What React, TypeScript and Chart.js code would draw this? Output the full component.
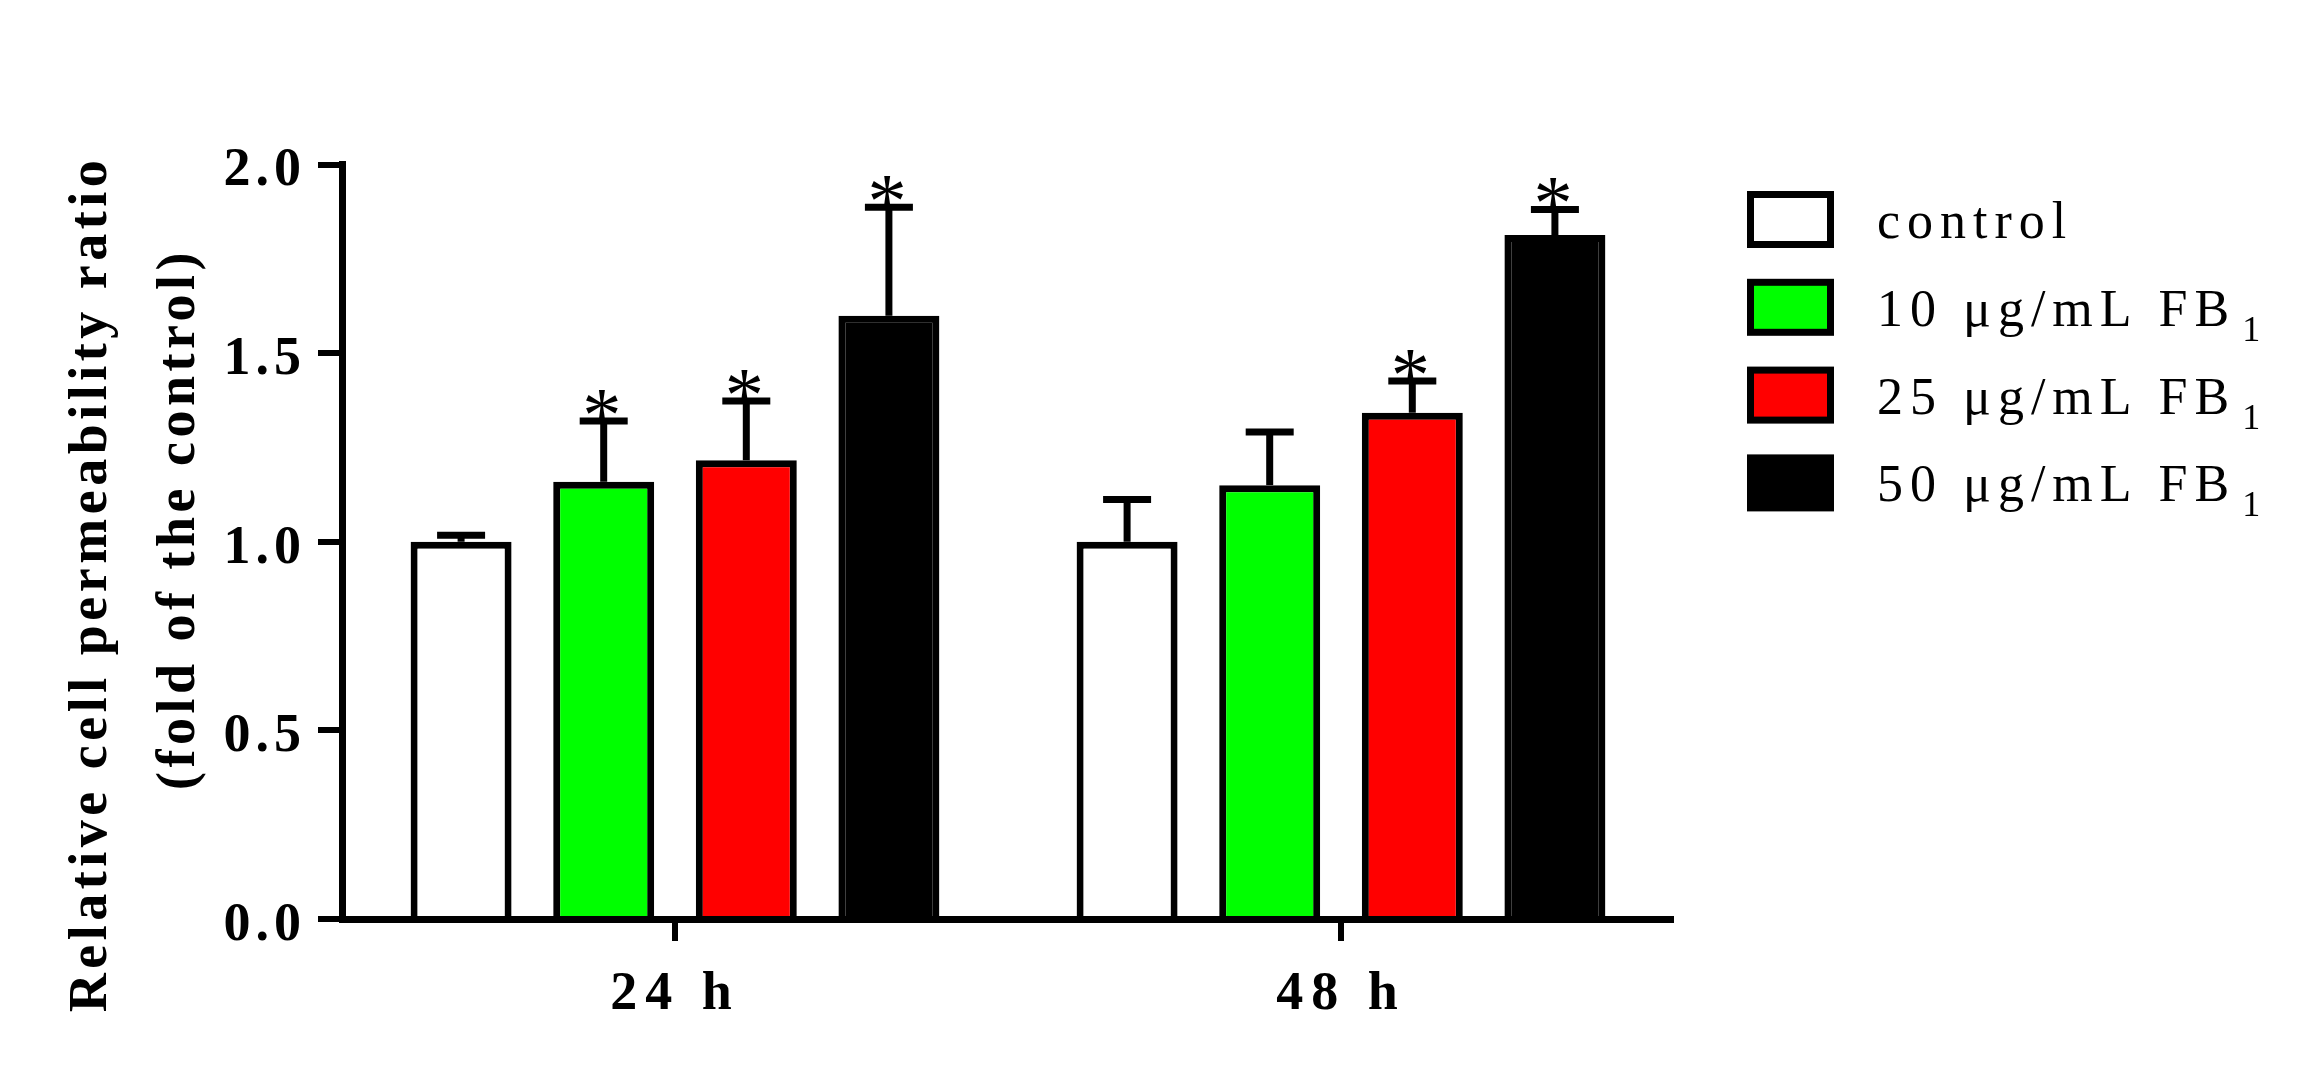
import React, { useEffect, useRef } from 'react';
import { Chart, registerables } from 'chart.js';

Chart.register(...registerables);

// ---- data ----
const categories = ['24 h', '48 h'];
const seriesLabels = ['control', '10 μg/mL FB', '25 μg/mL FB', '50 μg/mL FB'];
const seriesSubscripts = ['', '1', '1', '1'];
const seriesColors = ['#FFFFFF', '#00FF00', '#FF0000', '#000000'];

const controlValues = [1.0, 1.0];
const fb10Values = [1.159, 1.15];
const fb25Values = [1.216, 1.342];
const fb50Values = [1.599, 1.813];

const controlErrors = [0.017, 0.112];
const fb10Errors = [0.161, 0.141];
const fb25Errors = [0.157, 0.084];
const fb50Errors = [0.288, 0.068];

const controlSignificant = [false, false];
const fb10Significant = [true, false];
const fb25Significant = [true, true];
const fb50Significant = [true, true];

const yTickLabels = ['0.0', '0.5', '1.0', '1.5', '2.0'];
const yTitleLines = ['Relative cell permeability ratio', '(fold of the control)'];

const SERIF = '"Liberation Serif", "Times New Roman", serif';

const seriesValues = [controlValues, fb10Values, fb25Values, fb50Values];
const seriesErrors = [controlErrors, fb10Errors, fb25Errors, fb50Errors];
const seriesSignificant = [controlSignificant, fb10Significant, fb25Significant, fb50Significant];

const decorPlugin = {
  id: 'decor',
  beforeDraw(chart: any) {
    chart.ctx.letterSpacing = '5px';
  },
  afterDatasetsDraw(chart: any) {
    const ctx = chart.ctx;
    const yScale = chart.scales.y;
    ctx.save();
    ctx.letterSpacing = '0px';
    ctx.strokeStyle = '#000';
    ctx.fillStyle = '#000';
    ctx.lineWidth = 7;
    ctx.lineCap = 'butt';
    // size the asterisk so its ink is about 29px tall
    ctx.font = `100px ${SERIF}`;
    const m0 = ctx.measureText('*');
    const h0 = m0.actualBoundingBoxAscent + m0.actualBoundingBoxDescent;
    const size = (100 * 29) / (h0 || 40);
    ctx.font = `${size}px ${SERIF}`;
    const m = ctx.measureText('*');
    const midOff = (m.actualBoundingBoxAscent - m.actualBoundingBoxDescent) / 2;
    const midX = (m.actualBoundingBoxRight - m.actualBoundingBoxLeft) / 2;
    chart.data.datasets.forEach((ds: any, di: number) => {
      const meta = chart.getDatasetMeta(di);
      meta.data.forEach((bar: any, j: number) => {
        const v = ds.data[j];
        const e = ds.errors[j];
        const x = bar.x;
        const yTop = yScale.getPixelForValue(v);
        const yCap = yScale.getPixelForValue(v + e);
        ctx.beginPath();
        ctx.moveTo(x, yTop);
        ctx.lineTo(x, yCap);
        ctx.stroke();
        ctx.beginPath();
        ctx.moveTo(x - 24, yCap);
        ctx.lineTo(x + 24, yCap);
        ctx.stroke();
        if (ds.significant[j]) {
          ctx.textAlign = 'left';
          ctx.textBaseline = 'alphabetic';
          const cx = x - 2;
          const cy = yCap - 17;
          ctx.fillText('*', cx - midX, cy + midOff);
        }
      });
    });
    ctx.restore();
    ctx.letterSpacing = '8px';
  },
  afterDraw(chart: any) {
    const ctx = chart.ctx;
    // Y-axis title (two lines, rotated)
    ctx.save();
    ctx.letterSpacing = '4.5px';
    ctx.font = `bold 54px ${SERIF}`;
    ctx.fillStyle = '#000';
    ctx.textAlign = 'center';
    ctx.textBaseline = 'alphabetic';
    const titlePos = [
      [106, 584],
      [194, 519],
    ];
    yTitleLines.forEach((line, i) => {
      ctx.save();
      ctx.translate(titlePos[i][0], titlePos[i][1]);
      ctx.rotate(-Math.PI / 2);
      ctx.fillText(line, 0, 0);
      ctx.restore();
    });
    ctx.restore();

    // Legend
    ctx.save();
    const bx = 1747;
    const bw = 87;
    const bh = 57;
    const bwid = 7;
    seriesLabels.forEach((label, i) => {
      const cy = 219.5 + i * 87.8;
      const top = cy - bh / 2;
      ctx.fillStyle = '#000';
      ctx.fillRect(bx, top, bw, bh);
      ctx.fillStyle = seriesColors[i];
      ctx.fillRect(bx + bwid, top + bwid, bw - 2 * bwid, bh - 2 * bwid);
      ctx.fillStyle = '#000';
      ctx.textAlign = 'left';
      ctx.textBaseline = 'alphabetic';
      ctx.letterSpacing = '7px';
      ctx.font = `52px ${SERIF}`;
      const tx = 1877;
      const ty = cy + 18.5;
      ctx.fillText(label, tx, ty);
      if (seriesSubscripts[i]) {
        const w = ctx.measureText(label).width;
        ctx.font = `36px ${SERIF}`;
        ctx.letterSpacing = '0px';
        ctx.fillText(seriesSubscripts[i], tx + w + 6, ty + 15);
      }
    });
    ctx.restore();
  },
};

export default function App() {
  const canvasRef = useRef<HTMLCanvasElement | null>(null);

  useEffect(() => {
    const canvas = canvasRef.current;
    if (!canvas) return;
    const datasets = seriesLabels.map((label, i) => ({
      label,
      data: seriesValues[i],
      errors: seriesErrors[i],
      significant: seriesSignificant[i],
      backgroundColor: seriesColors[i],
      borderColor: '#000000',
      borderWidth: 7,
      borderSkipped: 'start',
      categoryPercentage: 0.8565,
      barPercentage: 0.708,
    }));

    const chart = new Chart(canvas, {
      type: 'bar',
      data: { labels: categories, datasets: datasets as any },
      plugins: [decorPlugin as any],
      options: {
        animation: false,
        responsive: false,
        devicePixelRatio: 1,
        layout: { padding: { top: 164.5, right: 636, bottom: 0, left: 0 } },
        plugins: {
          legend: { display: false },
          title: { display: false },
          tooltip: { enabled: false },
        },
        scales: {
          x: {
            offset: true,
            grid: {
              display: true,
              offset: false,
              drawOnChartArea: false,
              drawTicks: true,
              tickLength: 22,
              tickWidth: 6,
              tickColor: '#000',
              lineWidth: 0,
            },
            border: { display: true, color: '#000', width: 7, z: 1 },
            ticks: {
              z: 1,
              color: '#000',
              padding: 22,
              font: { family: SERIF, size: 54, weight: 'bold' },
              maxRotation: 0,
              autoSkip: false,
            },
            afterFit: (scale: any) => {
              scale.height = 149;
            },
          },
          y: {
            min: 0,
            max: 2,
            grid: {
              display: true,
              drawOnChartArea: false,
              drawTicks: true,
              tickLength: 24,
              tickWidth: 6,
              tickColor: '#000',
              lineWidth: 0,
            },
            border: { display: true, color: '#000', width: 7 },
            ticks: {
              stepSize: 0.5,
              color: '#000',
              padding: 12,
              labelOffset: 7,
              font: { family: SERIF, size: 54, weight: 'bold' },
              callback: (_v: any, idx: number) => yTickLabels[idx],
            },
            afterFit: (scale: any) => {
              scale.width = 342;
            },
          },
        },
      } as any,
    });
    return () => chart.destroy();
  }, []);

  return (
    <div style={{ position: 'absolute', left: 0, top: 0, width: 2310, height: 1068, background: '#fff' }}>
      <canvas ref={canvasRef} width={2310} height={1068} style={{ display: 'block' }} />
    </div>
  );
}
